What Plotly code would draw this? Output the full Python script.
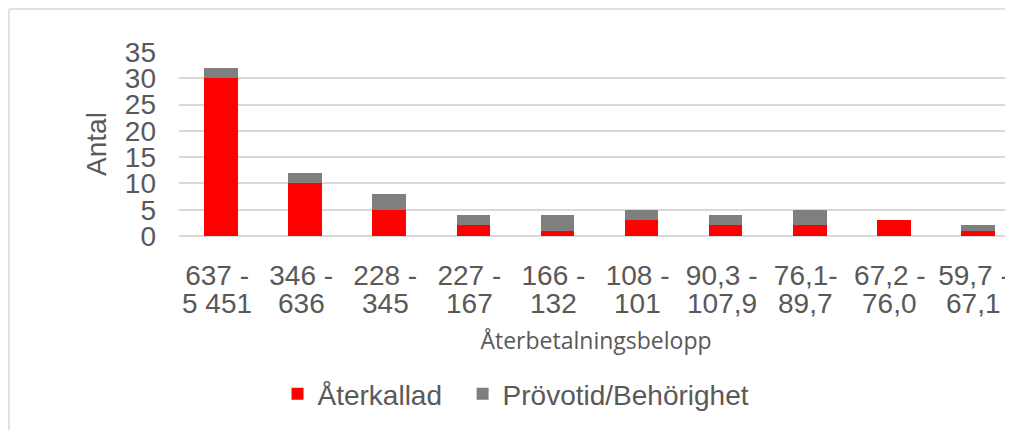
import plotly.graph_objects as go

categories = ["637 - 5 451", "346 - 636", "228 - 345", "227 - 167", "166 - 132",
              "108 - 101", "90,3 - 107,9", "76,1- 89,7", "67,2 - 76,0", "59,7 - 67,1"]
line1 = ["637 -", "346 -", "228 -", "227 -", "166 -", "108 -", "90,3 -", "76,1-", "67,2 -", "59,7 -"]
line2 = ["5 451", "636", "345", "167", "132", "101", "107,9", "89,7", "76,0", "67,1"]
aterkallad = [30, 10, 5, 2, 1, 3, 2, 2, 3, 1]
provotid = [2, 2, 3, 2, 3, 2, 2, 3, 0, 1]
y_ticks = [0, 5, 10, 15, 20, 25, 30, 35]
series_names = ["Återkallad", "Prövotid/Behörighet"]

TXT = "#595959"
GRID = "#d9d9d9"
ARIAL = "Liberation Sans, Arial, sans-serif"

OFF = 8  # page body margin
W, H = 1005, 422
L, R, T, B = 171, 0, 44, 194
pw = W - L - R
ph = H - T - B

def px_x(p):  # reference page px -> paper x
    return (p - OFF - L) / pw

def px_y(p):  # reference page px -> paper y
    return (H - B - (p - OFF)) / ph

fig = go.Figure()
fig.add_trace(go.Bar(x=categories, y=aterkallad, name=series_names[0] + "\u00a0\u00a0",
                     marker=dict(color="#ff0000", line=dict(width=0))))
fig.add_trace(go.Bar(x=categories, y=provotid, name=series_names[1],
                     marker=dict(color="#7f7f7f", line=dict(width=0))))

for c, t in zip(categories, line2):
    fig.add_annotation(x=c, xref="x", y=px_y(303), yref="paper",
                       text=t, showarrow=False, yanchor="middle", xshift=-4,
                       font=dict(family=ARIAL, size=28, color=TXT))

# chart border (left and top edges visible)
fig.add_shape(type="line", xref="paper", yref="paper",
              x0=(1 - L) / pw, x1=(1 - L) / pw, y0=px_y(470), y1=(H - B - 1) / ph,
              line=dict(color=GRID, width=1.5), layer="below")
fig.add_shape(type="line", xref="paper", yref="paper",
              x0=(1 - L) / pw, x1=1.05, y0=(H - B - 1) / ph, y1=(H - B - 1) / ph,
              line=dict(color=GRID, width=1.5), layer="below")

fig.update_layout(
    width=W, height=H,
    margin=dict(l=L, r=R, t=T, b=B, autoexpand=False),
    barmode="stack",
    bargap=0.6,
    plot_bgcolor="white", paper_bgcolor="white",
    font=dict(family=ARIAL, color=TXT, size=28),
    showlegend=True,
    legend=dict(orientation="h", x=px_x(516), xanchor="center",
                y=px_y(394), yanchor="middle",
                font=dict(family=ARIAL, size=28, color=TXT),
                traceorder="normal", itemclick=False, bgcolor="rgba(0,0,0,0)"),
    xaxis=dict(
        type="category", categoryorder="array", categoryarray=categories,
        range=[-0.5, -0.5 + pw / 84.1],
        tickmode="array", tickvals=categories, ticktext=line1,
        tickfont=dict(family=ARIAL, size=28, color=TXT),
        ticklabelstandoff=20, ticklabelshift=-4,
        showgrid=False, showline=False, zeroline=False, ticks="",
        title=dict(text="Återbetalningsbelopp", standoff=42,
                   font=dict(family="Open Sans, Noto Sans, sans-serif", size=23, color=TXT)),
        automargin=False,
    ),
    yaxis=dict(
        range=[0, 35], tickmode="array", tickvals=y_ticks,
        tickfont=dict(family=ARIAL, size=28, color=TXT),
        ticklabelstandoff=22,
        showgrid=True, gridcolor=GRID, gridwidth=1.5,
        zeroline=True, zerolinecolor=GRID, zerolinewidth=1.5,
        showline=False, ticks="",
        title=dict(text="Antal", standoff=10,
                   font=dict(family=ARIAL, size=28, color=TXT)),
        automargin=False,
    ),
)

fig.write_html("out.html")
